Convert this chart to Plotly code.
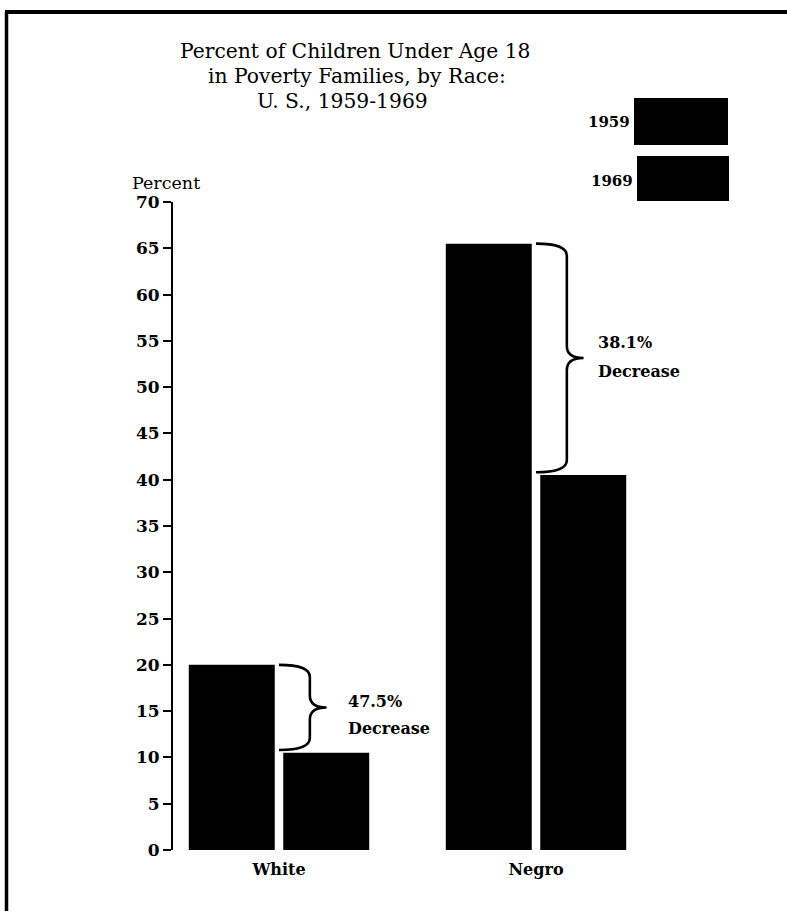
import plotly.graph_objects as go

# Data
races = ["White", "Negro"]
years = ["1959", "1969"]
pct_1959 = [20.0, 65.5]
pct_1969 = [10.5, 40.5]
decrease_labels = ["47.5%", "38.1%"]
y_ticks = [0, 5, 10, 15, 20, 25, 30, 35, 40, 45, 50, 55, 60, 65, 70]

SERIF = "DejaVu Serif"
W, H = 787, 911

# Plot area in pixels
left, right, top_px, bot_px = 173, 700, 202, 850
cat_px = [279, 536]
spacing = cat_px[1] - cat_px[0]
x_lo = (left - cat_px[0]) / spacing
x_hi = (right - cat_px[0]) / spacing


def px_x(X):
    return (X - left) / (right - left)


def px_y(Y):
    return (bot_px - Y) / (bot_px - top_px)


fig = go.Figure()
fig.add_trace(go.Bar(x=races, y=pct_1959, name=years[0], marker=dict(color="black", line=dict(width=0)), showlegend=False))
fig.add_trace(go.Bar(x=races, y=pct_1969, name=years[1], marker=dict(color="black", line=dict(width=0)), showlegend=False))

shapes = []
annotations = []

# Braces between the 1959 and 1969 bars (in data coordinates)
x_start, x_vert, x_tip = 0.0, 0.12, 0.185
r = 1.3
label_yshifts = [(6, -21), (15, -14)]   # pixel shifts of the two label lines
label_xshift = [3, -4]
for i, (top, bot, lab) in enumerate(zip(pct_1959, pct_1969, decrease_labels)):
    bot = bot + 0.3
    mid = (top + bot) / 2
    x0 = i + x_start
    x1 = i + x_vert
    xt = i + x_tip
    path = (f"M {x0},{top} Q {x1},{top} {x1},{top - r} "
            f"L {x1},{mid + r} Q {x1},{mid} {xt},{mid} "
            f"Q {x1},{mid} {x1},{mid - r} "
            f"L {x1},{bot + r} Q {x1},{bot} {x0},{bot}")
    shapes.append(dict(type="path", xref="x", yref="y", path=path,
                       line=dict(color="black", width=2.6)))
    s1, s2 = label_yshifts[i]
    for txt, s in ((lab, s1), ("Decrease", s2)):
        annotations.append(dict(x=xt + 0.065, y=mid, xref="x", yref="y", text=txt,
                                showarrow=False, xanchor="left", yanchor="middle",
                                yshift=s, xshift=label_xshift[i],
                                font=dict(family=SERIF, size=16, color="black", weight="bold")))

# Title lines
title_lines = ["Percent of Children Under Age 18", "in Poverty Families, by Race:", "U. S., 1959-1969"]
title_y = [51, 76, 101]
title_x = [355, 357, 342]
for t, xx, yy in zip(title_lines, title_x, title_y):
    annotations.append(dict(x=px_x(xx), y=px_y(yy), xref="paper", yref="paper", text=t,
                            showarrow=False, xanchor="center", yanchor="middle",
                            font=dict(family=SERIF, size=20.3, color="black")))

# Axis title "Percent"
annotations.append(dict(x=px_x(130), y=px_y(183), xref="paper", yref="paper", text="Percent",
                        showarrow=False, xanchor="left", yanchor="middle",
                        font=dict(family=SERIF, size=17.5, color="black")))

# Legend boxes and labels
legend_boxes = [(634, 98, 728, 145), (637, 156, 729, 201)]
legend_text_y = [122, 181]
for (bx0, by0, bx1, by1), yr, ty in zip(legend_boxes, years, legend_text_y):
    shapes.append(dict(type="rect", xref="paper", yref="paper",
                       x0=px_x(bx0), x1=px_x(bx1), y0=px_y(by1), y1=px_y(by0),
                       fillcolor="black", line=dict(width=0)))
    annotations.append(dict(x=px_x(bx0 - 2), y=px_y(ty), xref="paper", yref="paper",
                            text=yr, showarrow=False, xanchor="right", yanchor="middle",
                            font=dict(family=SERIF, size=15, color="black", weight="bold")))

# Frame lines (top and left)
shapes.append(dict(type="line", xref="paper", yref="paper", x0=px_x(5), x1=px_x(W + 10),
                   y0=px_y(12), y1=px_y(12), line=dict(color="black", width=4)))
shapes.append(dict(type="line", xref="paper", yref="paper", x0=px_x(6.5), x1=px_x(6.5),
                   y0=px_y(H + 10), y1=px_y(12), line=dict(color="black", width=3.5)))

fig.update_layout(
    width=W, height=H,
    margin=dict(l=left, r=W - right, t=top_px, b=H - bot_px, pad=0),
    paper_bgcolor="white", plot_bgcolor="white",
    barmode="group", bargap=0.265, bargroupgap=0.09,
    shapes=shapes, annotations=annotations,
    xaxis=dict(range=[x_lo, x_hi], showline=False, showgrid=False, zeroline=False,
               ticks="", ticklabelstandoff=8,
               tickfont=dict(family=SERIF, size=16, color="black", weight="bold"),
               fixedrange=True),
    yaxis=dict(range=[0, 70], tickvals=y_ticks, showline=True, linecolor="black", linewidth=2,
               showgrid=False, zeroline=False, ticks="outside", ticklen=8, tickwidth=2,
               tickcolor="black",
               tickfont=dict(family=SERIF, size=17, color="black", weight="bold"), fixedrange=True),
    showlegend=False,
)

fig.write_html("out.html", config={"displayModeBar": False},
               post_script="document.body.style.margin='0';")
